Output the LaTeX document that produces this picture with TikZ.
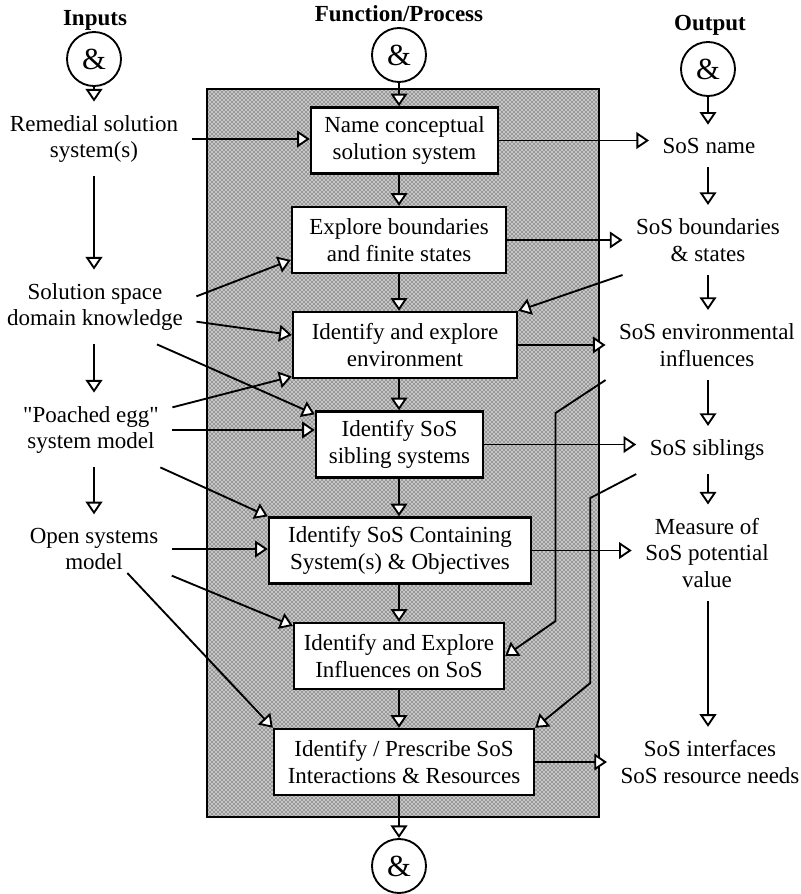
\documentclass[tikz,border=0pt]{standalone}
\usepackage{fontspec}
\setmainfont{Liberation Serif}
\usetikzlibrary{arrows.meta, patterns}

\begin{document}
\begin{tikzpicture}[
    x=0.75pt, y=-0.75pt,
    font=\fontsize{17.25pt}{20pt}\selectfont,
    flowArrow/.style={line width=1.4pt, -{Triangle[length=9.5pt, width=12.5pt, fill=white]}},
    procNode/.style={rectangle, draw, line width=1.8pt, fill=white, minimum height=49.5pt, inner sep=0pt, align=center},
    ioNode/.style={align=center, inner sep=10pt},
    andNode/.style={circle, draw, line width=1.4pt, fill=white, minimum size=40.5pt, inner sep=0pt, font=\fontsize{23pt}{23pt}\selectfont},
    titleNode/.style={font=\fontsize{17.25pt}{20pt}\selectfont\bfseries}
]
    \useasboundingbox (0,0) rectangle (801,894);

    % Process area
    \draw[line width=1.8pt, preaction={fill=gray!45}, pattern=crosshatch dots, pattern color=black] (207,89) rectangle (599,817);

    % Titles and junctions
    \node[titleNode] (tIn) at (95,20) {Inputs};
    \node[titleNode] (tFun) at (399,14) {Function/Process};
    \node[titleNode] (tOut) at (710,25) {Output};
    \node[andNode] (andIn) at (94,59) {\&};
    \node[andNode] (andFun) at (399,55) {\&};
    \node[andNode] (andOut) at (708,69) {\&};
    \node[andNode] (andEnd) at (399,866) {\&};

    % Process boxes
    \node[procNode, minimum width=140.25pt] (pName) at (404.5,140.5) {Name conceptual\\solution system};
    \node[procNode, minimum width=160.5pt] (pBound) at (399,240) {Explore boundaries\\and finite states};
    \node[procNode, minimum width=168pt] (pEnv) at (405,345) {Identify and explore\\environment};
    \node[procNode, minimum width=125.25pt] (pSib) at (399.5,444.5) {Identify SoS\\sibling systems};
    \node[procNode, minimum width=196.5pt] (pCont) at (400,550.5) {Identify SoS Containing\\System(s) \& Objectives};
    \node[procNode, minimum width=157.5pt] (pInfl) at (399,656) {Identify and Explore\\Influences on SoS};
    \node[procNode, minimum width=195pt] (pInter) at (404,762) {Identify / Prescribe SoS\\Interactions \& Resources};

    % Inputs
    \node[ioNode] (inRem) at (94,139) {Remedial solution\\system(s)};
    \node[ioNode] (inSol) at (95,307) {Solution space\\domain knowledge};
    \node[ioNode] (inEgg) at (91,430) {\textquotedbl Poached egg\textquotedbl\\system model};
    \node[ioNode] (inOpen) at (94,549) {Open systems\\model};

    % Outputs
    \node[ioNode] (outName) at (709,146) {SoS name};
    \node[ioNode] (outBound) at (708,240) {SoS boundaries\\\& states};
    \node[ioNode] (outEnv) at (707,345) {SoS environmental\\influences};
    \node[ioNode] (outSib) at (707,450) {SoS siblings};
    \node[ioNode] (outMeas) at (707,553) {Measure of\\SoS potential\\value};
    \node[ioNode] (outIntf) at (710,762) {SoS interfaces\\SoS resource needs};

    % Column flows
    \foreach \a/\b in {andFun/pName, pName/pBound, pBound/pEnv, pEnv/pSib, pSib/pCont, pCont/pInfl, pInfl/pInter, pInter/andEnd}
        \draw[flowArrow] (\a.south -| andFun) -- (\b.north -| andFun);
    \foreach \a/\b in {andIn/inRem, inRem/inSol, inSol/inEgg, inEgg/inOpen}
        \draw[flowArrow] (\a.south -| andIn) -- (\b.north -| andIn);
    \foreach \a/\b in {andOut/outName, outName/outBound, outBound/outEnv, outEnv/outSib, outSib/outMeas, outMeas/outIntf}
        \draw[flowArrow] (\a.south -| andOut) -- (\b.north -| andOut);

    % Inputs to process
    \draw[flowArrow] (inRem.east) -- (inRem.east -| pName.west);
    \draw[flowArrow] ([yshift=8pt]inSol.east) -- ([yshift=-15pt]pBound.west);
    \draw[flowArrow] ([yshift=-11pt]inSol.east) -- ([yshift=7.5pt]pEnv.west);
    \draw[flowArrow] ([xshift=46.5pt]inSol.south) -- ([yshift=-3pt]pSib.north west);
    \draw[flowArrow] ([yshift=17pt]inEgg.east) -- ([yshift=2pt]pEnv.south west);
    \draw[flowArrow] (inEgg.east) -- (inEgg.east -| pSib.west);
    \draw[flowArrow] ([xshift=52pt]inEgg.south) -- (pCont.north west);
    \draw[flowArrow] (inOpen.east) -- (inOpen.east -| pCont.west);
    \draw[flowArrow] ([yshift=6pt]inOpen.south east) -- ([yshift=-3pt]pInfl.north west);
    \draw[flowArrow] ([xshift=25pt, yshift=8pt]inOpen.south) -- (pInter.north west);

    % Process to outputs
    \draw[flowArrow] (pName.east) -- (pName.east -| outName.west);
    \draw[flowArrow] (pBound.east) -- (pBound.east -| outBound.west);
    \draw[flowArrow] (pEnv.east) -- (pEnv.east -| outEnv.west);
    \draw[flowArrow] (pSib.east) -- (pSib.east -| outSib.west);
    \draw[flowArrow] (pCont.east) -- (pCont.east -| outMeas.west);
    \draw[flowArrow] (pInter.east) -- (pInter.east -| outIntf.west);

    % Feedback into process
    \draw[flowArrow] (outBound.south west) -- (pEnv.north east);
    \draw[flowArrow] (outEnv.south west) -- ++(-50,33) -- ++(0,208) -- (pInfl.east);
    \draw[flowArrow] (outSib.south west) -- ++(-46,24) -- ++(0,185) -- (pInter.north east);

\end{tikzpicture}
\end{document}
